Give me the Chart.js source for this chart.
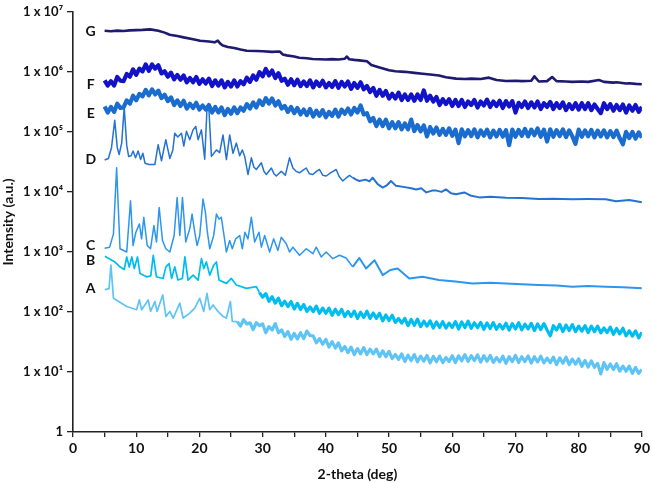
<!DOCTYPE html>
<html>
<head>
<meta charset="utf-8">
<script src="https://cdn.jsdelivr.net/npm/chart.js@4/dist/chart.umd.min.js"></script>
<style>
  body { margin: 0; background: #fff; }
  #wrap { width: 653px; height: 483px; }
</style>
</head>
<body>
<div id="wrap"><canvas id="xrd"></canvas></div>
<script>
// Intensidades: [2-theta, intensidad]
const serieG = [[5,4.82e6],[6,4.75e6],[7,4.85e6],[8,4.8e6],[9,4.9e6],[10,4.95e6],[11,5.0e6],[12.2,5.1e6],[13.5,4.85e6],[14.5,4.5e6],
  [15.3,4.15e6],[16.5,3.95e6],[17.5,3.75e6],[19,3.5e6],[20.1,3.3e6],[21.5,3.2e6],[22.4,3.1e6],[22.9,3.3e6],[23.3,2.95e6],[23.7,2.75e6],
  [24.5,2.6e6],[25.5,2.5e6],[26.5,2.35e6],[27.5,2.25e6],[29,2.22e6],[30,2.2e6],[31.5,2.15e6],[32.7,2.18e6],[33.2,1.95e6],[33.8,1.88e6],
  [35,1.8e6],[35.8,1.72e6],[37,1.68e6],[37.9,1.64e6],[39,1.62e6],[40,1.6e6],[41,1.63e6],[42,1.6e6],[43,1.65e6],[43.3,1.8e6],
  [43.7,1.62e6],[44.5,1.58e6],[45.3,1.55e6],[46.5,1.5e6],[47.2,1.3e6],[48.5,1.18e6],[50,1.06e6],[51,1.02e6],[52.5,1.0e6],[54,9.6e5],
  [55.3,9.3e5],[56.5,9.0e5],[57.9,8.7e5],[59,8.1e5],[60.6,7.7e5],[62,7.6e5],[63,7.7e5],[64.5,7.6e5],[65.8,8.0e5],[67,7.3e5],
  [68.5,7.05e5],[70,7.1e5],[71,7.0e5],[72.5,7.1e5],[73,8.4e5],[73.7,6.9e5],[75,7.0e5],[75.8,8.2e5],[76.5,7.0e5],[78,6.9e5],
  [79,6.8e5],[80.5,6.9e5],[81.5,6.8e5],[83.2,7.3e5],[84,6.8e5],[85.5,6.6e5],[86,6.7e5],[87.5,6.4e5],[88,6.45e5],[89,6.3e5],[90,6.2e5]];

const serieF = [[5,7.2e5],[5.5,5.9e5],[6,7.0e5],[6.5,5.9e5],[7,8.2e5],[7.5,7.1e5],[8,7.0e5],[8.5,9.2e5],[9,8.3e5],[9.5,1.1e6],
  [10,8.9e5],[10.5,1.13e6],[11,1.02e6],[11.5,1.33e6],[12,1.04e6],[12.5,1.33e6],[13,1.13e6],[13.5,1.29e6],[14,9.4e5],[14.5,1.02e6],
  [15,8.3e5],[15.5,9.7e5],[16,7.5e5],[16.5,8.9e5],[17,7.4e5],[17.5,8.7e5],[18,6.7e5],[18.5,7.9e5],[19,6.7e5],[19.5,8.2e5],
  [20,6.3e5],[20.5,7.5e5],[21,6.4e5],[21.5,7.7e5],[22,5.8e5],[22.5,7.2e5],[23,5.9e5],[23.5,7.2e5],[24,5.5e5],[24.5,6.8e5],
  [25,5.7e5],[25.5,7.2e5],[26,5.7e5],[26.5,7.0e5],[27,6.2e5],[27.5,8.0e5],[28,6.8e5],[28.5,8.7e5],[29,7.4e5],[29.5,9.9e5],
  [30,8.4e5],[30.5,1.12e6],[31,8.7e5],[31.5,1.05e6],[32,7.9e5],[32.5,9.5e5],[33,7.1e5],[33.5,7.7e5],[34,6.1e5],[34.5,7.5e5],
  [35,6.0e5],[35.5,7.4e5],[36,5.8e5],[36.5,6.9e5],[37,5.8e5],[37.5,7.2e5],[38,5.5e5],[38.5,6.9e5],[39,5.8e5],[39.5,7.1e5],
  [40,5.5e5],[40.5,6.5e5],[41,5.6e5],[41.5,7.0e5],[42,5.4e5],[42.5,6.8e5],[43,5.7e5],[43.5,6.9e5],[44,5.2e5],[44.5,6.5e5],
  [45,5.4e5],[45.5,6.7e5],[46,5.1e5],[46.5,5.8e5],[47,4.6e5],[47.5,5.4e5],[48,4.0e5],[48.5,5.0e5],[49,4.0e5],[49.5,4.8e5],
  [50,3.6e5],[50.5,4.3e5],[51,3.6e5],[51.5,4.5e5],[52,3.4e5],[52.5,4.2e5],[53,3.4e5],[53.5,4.2e5],[54,3.3e5],[54.5,4.2e5],
  [55,3.4e5],[55.5,4.9e5],[56,3.3e5],[56.5,4.0e5],[57,3.2e5],[57.5,3.8e5],[58,2.8e5],[58.5,3.5e5],[59,2.9e5],[59.5,3.5e5],
  [60,2.7e5],[60.5,3.4e5],[61,2.7e5],[61.5,3.4e5],[62,2.6e5],[62.5,3.2e5],[63,2.8e5],[63.5,3.4e5],[64,2.55e5],[64.5,3.2e5],
  [65,2.75e5],[65.5,3.45e5],[66,2.6e5],[66.5,3.2e5],[67,2.7e5],[67.5,3.3e5],[68,2.5e5],[68.5,3.25e5],[69,2.65e5],[69.5,3.25e5],
  [70,2.1e5],[70.5,3.05e5],[71,2.6e5],[71.5,3.2e5],[72,2.5e5],[72.5,3.1e5],[73,2.55e5],[73.5,3.2e5],[74,2.4e5],[74.5,3.0e5],
  [75,2.6e5],[75.5,3.15e5],[76,2.4e5],[76.5,3.0e5],[77,2.5e5],[77.5,3.1e5],[78,2.3e5],[78.5,2.9e5],[79,2.4e5],[79.5,3.0e5],
  [80,2.35e5],[80.5,3.0e5],[81,2.4e5],[81.5,3.0e5],[82,2.3e5],[82.5,2.85e5],[83,2.4e5],[83.5,2.05e5],[84,3.0e5],[84.5,2.4e5],
  [85,2.9e5],[85.5,2.25e5],[86,2.8e5],[86.5,2.3e5],[87,2.85e5],[87.5,2.1e5],[88,2.75e5],[88.5,2.25e5],[89,2.8e5],[89.5,2.15e5],[90,2.6e5]];

const serieE = [[5,2.65e5],[5.5,2.1e5],[6,2.6e5],[6.5,2.15e5],[7,2.95e5],[7.5,2.5e5],[8,2.55e5],[8.5,3.35e5],[9,2.95e5],[9.5,4.0e5],
  [10,3.35e5],[10.5,4.3e5],[11,3.9e5],[11.5,5.0e5],[12,4.05e5],[12.5,5.1e5],[13,4.2e5],[13.5,4.85e5],[14,3.65e5],[14.5,4.15e5],
  [15,3.25e5],[15.5,3.75e5],[16,2.8e5],[16.5,3.35e5],[17,2.7e5],[17.5,3.3e5],[18,2.45e5],[18.5,2.95e5],[19,2.5e5],[19.5,3.05e5],
  [20,2.35e5],[20.5,2.75e5],[21,2.35e5],[21.5,2.8e5],[22,2.1e5],[22.5,2.6e5],[23,2.1e5],[23.5,2.55e5],[24,1.9e5],[24.5,2.4e5],
  [25,2.0e5],[25.5,2.55e5],[26,2.05e5],[26.5,2.55e5],[27,2.25e5],[27.5,2.9e5],[28,2.45e5],[28.5,3.1e5],[29,2.55e5],[29.5,3.35e5],
  [30,2.8e5],[30.5,3.65e5],[31,2.95e5],[31.5,3.6e5],[32,2.75e5],[32.5,3.25e5],[33,2.45e5],[33.5,2.7e5],[34,2.15e5],[34.5,2.6e5],
  [35,2.05e5],[35.5,2.5e5],[36,1.95e5],[36.5,2.35e5],[37,1.9e5],[37.5,2.4e5],[38,1.8e5],[38.5,2.25e5],[39,1.85e5],[39.5,2.3e5],
  [40,1.75e5],[40.5,2.15e5],[41,1.85e5],[41.5,2.35e5],[42,1.8e5],[42.5,2.35e5],[43,2.0e5],[43.5,2.45e5],[44,1.95e5],[44.5,2.5e5],
  [45,2.1e5],[45.5,2.75e5],[46,1.95e5],[46.5,2.05e5],[47,1.5e5],[47.5,1.7e5],[48,1.25e5],[48.5,1.6e5],[49,1.25e5],[49.5,1.6e5],
  [50,1.15e5],[50.5,1.45e5],[51,1.15e5],[51.5,1.45e5],[52,1.1e5],[52.5,1.38e5],[53,1.1e5],[53.5,1.6e5],[54,1.03e5],[54.5,1.3e5],
  [55,1.02e5],[55.5,1.28e5],[56,8.4e4],[56.5,1.2e5],[57,9.4e4],[57.5,1.18e5],[58,8.9e4],[58.5,1.12e5],[59,8.9e4],[59.5,1.14e5],
  [60,8.6e4],[60.5,1.09e5],[61,6.5e4],[61.5,1.1e5],[62,8.4e4],[62.5,1.07e5],[63,8.5e4],[63.5,1.1e5],[64,8.1e4],[64.5,1.06e5],
  [65,8.6e4],[65.5,1.09e5],[66,8.1e4],[66.5,1.05e5],[67,8.4e4],[67.5,1.08e5],[68,8.3e4],[68.5,1.07e5],[69,6.0e4],[69.5,1.09e5],
  [70,8.3e4],[70.5,1.08e5],[71,8.6e4],[71.5,1.12e5],[72,8.4e4],[72.5,1.09e5],[73,8.8e4],[73.5,1.14e5],[74,8.3e4],[74.5,1.09e5],
  [75,6.9e4],[75.5,1.1e5],[76,8.3e4],[76.5,1.07e5],[77,8.5e4],[77.5,1.1e5],[78,8.2e4],[78.5,1.06e5],[79,8.4e4],[79.5,6.3e4],
  [80,1.09e5],[80.5,8.3e4],[81,1.06e5],[81.5,8.4e4],[82,1.08e5],[82.5,8.1e4],[83,1.05e5],[83.5,8.4e4],[84,1.06e5],[84.5,8.1e4],
  [85,1.03e5],[85.5,8.2e4],[86,1.05e5],[86.5,7.8e4],[87,6.2e4],[87.5,1.0e5],[88,7.9e4],[88.5,1.0e5],[89,7.7e4],[89.5,9.8e4],[90,8.0e4]];

const serieD = [[5,3.4e4],[5.6,3.6e4],[6.1,5.5e4],[6.6,1.56e5],[7.0,5.5e4],[7.3,4.2e4],[7.7,6.5e4],[8.1,2.56e5],[8.5,6.0e4],[8.8,3.9e4],
  [9.2,4.0e4],[9.5,4.8e4],[9.9,3.7e4],[10.3,4.8e4],[10.7,3.45e4],[11.05,4.4e4],[11.4,3.0e4],[12.0,2.85e4],[12.95,2.85e4],[13.47,6.1e4],
  [14.0,3.3e4],[14.68,7.4e4],[15.32,3.6e4],[15.8,5.0e4],[16.1,9.5e4],[16.58,8.2e4],[17.16,9.5e4],[17.53,5.8e4],[17.95,1.02e5],[18.47,7.4e4],
  [19.0,1.08e5],[19.42,1.23e5],[19.79,7.4e4],[20.32,1.08e5],[20.84,3.5e4],[21.2,2.5e5],[21.52,2.2e5],[21.9,3.9e4],[22.69,5.0e4],[23.2,4.5e4],
  [23.73,8.9e4],[24.27,3.45e4],[24.79,8.9e4],[25.31,4.4e4],[25.85,6.5e4],[26.37,4.0e4],[26.8,5.0e4],[27.16,3.9e4],[27.68,1.95e4],[28.22,3.7e4],
  [28.6,2.6e4],[29.0,2.36e4],[29.8,3.05e4],[30.2,2.2e4],[30.59,1.95e4],[31.38,2.5e4],[31.8,2.0e4],[32.16,1.84e4],[32.95,2.2e4],[33.6,1.9e4],
  [34.26,3.7e4],[34.79,2.5e4],[35.3,2.2e4],[35.84,2.08e4],[36.4,2.3e4],[36.9,2.5e4],[37.4,2.0e4],[37.95,1.95e4],[38.5,2.2e4],[39.0,2.36e4],
  [39.5,1.9e4],[40.06,1.84e4],[40.8,2.1e4],[41.64,2.36e4],[42.1,1.8e4],[42.68,1.52e4],[43.2,1.7e4],[43.74,1.88e4],[44.26,1.72e4],[44.8,1.6e4],
  [45.3,1.52e4],[46.3,1.6e4],[46.9,1.5e4],[47.4,1.72e4],[48.2,1.35e4],[49.0,1.18e4],[49.7,1.3e4],[50.3,1.52e4],[51.1,1.26e4],[52.5,1.2e4],
  [53.5,1.15e4],[54.3,1.1e4],[55.1,1.15e4],[55.9,9.8e3],[56.8,1.05e4],[57.5,1.05e4],[58.3,1.0e4],[59.0,1.1e4],[59.8,9.5e3],[60.6,9.1e3],
  [61.9,9.8e3],[63.0,8.6e3],[64.3,8.1e3],[66.0,8.3e3],[68.5,8.0e3],[71.0,7.9e3],[73.7,7.6e3],[76.0,7.7e3],[79.0,7.55e3],[81.5,7.6e3],
  [84.3,7.55e3],[85.9,7.0e3],[88.0,7.3e3],[90.0,6.7e3]];

const serieC = [[5,1.15e3],[5.8,1.2e3],[6.4,2.0e3],[6.9,2.52e4],[7.44,1.13e3],[8.5,995],[9.1,7.1e3],[9.5,1.28e3],[9.95,2.13e3],[10.5,2.92e3],
  [10.85,1.65e3],[11.2,3.77e3],[11.74,1.28e3],[12.27,1.13e3],[12.8,2.75e3],[13.21,1.46e3],[13.63,5.5e3],[14.16,1.55e3],[14.69,1.13e3],[15.32,995],
  [16.0,1.88e3],[16.47,8.05e3],[16.9,1.88e3],[17.32,8.05e3],[17.84,1.46e3],[18.47,2.42e3],[18.84,4.27e3],[19.26,2.13e3],[19.63,1.28e3],[20.05,1.88e3],
  [20.57,7.6e3],[20.95,4.55e3],[21.26,2.13e3],[21.63,1.13e3],[22.26,1.88e3],[22.69,4.27e3],[23.1,3.53e3],[23.47,3.77e3],[23.89,1.88e3],[24.27,995],
  [24.79,1.55e3],[25.2,1.13e3],[25.74,1.65e3],[26.37,1.88e3],[26.79,1.13e3],[27.2,2.13e3],[27.68,1.65e3],[28.22,3.77e3],[28.74,1.46e3],[29.42,2.13e3],
  [29.8,1.2e3],[30.32,1.88e3],[31.11,995],[31.74,1.65e3],[32.42,1.06e3],[32.95,1.76e3],[33.74,1.37e3],[34.26,995],[34.79,1.2e3],[35.84,879],
  [36.9,1.13e3],[37.95,933],[38.48,1.2e3],[39.27,824],[40.06,995],[41.11,772],[42.16,879],[43.2,793],[44.26,564],[45.3,793],
  [46.37,529],[47.7,728],[49.0,411],[50.2,500],[51.36,529],[53.2,361],[55.3,385],[57.9,340],[60.5,320],[63.2,299],
  [66.0,305],[68.5,299],[71.0,290],[73.7,281],[76.5,275],[79.0,264],[81.5,270],[84.3,264],[87.0,258],[90.0,247]];

const serieB = [[5.05,850],[6.63,681],[7.42,564],[8.1,510],[8.5,824],[8.9,560],[9.3,824],[9.7,529],[10.2,824],[10.6,437],
  [11.64,385],[12.3,400],[12.7,879],[13.2,385],[14.25,361],[14.7,564],[15.2,638],[15.6,361],[16.1,564],[16.6,340],
  [17.3,360],[17.7,824],[18.2,340],[19.0,411],[19.8,340],[20.32,772],[20.7,529],[21.1,681],[21.63,411],[22.26,601],
  [22.69,681],[23.1,340],[24.27,299],[25.05,361],[25.85,281],[27.43,247],[29.0,264],[29.5,210],
  [30,176],[30.5,202],[31,150],[31.5,179],[32,140],[32.5,170],[33,127],[33.5,151],[34,123],[34.5,149],
  [35,112],[35.5,139],[36,110],[36.5,133],[37,102],[37.5,121],[38,101],[38.5,125],[39,95],[39.5,116],
  [40,95],[40.5,116],[41,88],[41.5,111],[42,90],[42.5,110],[43,84],[43.5,102],[44,84],[44.5,103],
  [45,78],[45.5,99],[46,81],[46.5,103],[47,78],[47.5,96],[48,78],[48.5,95],[49,71],[49.5,89],
  [50,72],[50.5,88],[51,67],[51.5,78],[52,65],[52.5,78],[53,59],[53.5,75],[54,60],[54.5,76],
  [55,57],[55.5,70],[56,58],[56.5,71],[57,54],[57.5,68],[58,55],[58.5,69],[59,54],[59.5,65],
  [60,55],[60.5,69],[61,52],[61.5,68],[62,55],[62.5,70],[63,53.5],[63.5,66],[64,54.5],[64.5,67],
  [65,51.5],[65.5,65.5],[66,53],[66.5,66.5],[67,51.5],[67.5,62],[68,52],[68.5,65],[69,50],[69.5,64],
  [70,52],[70.5,66],[71,50.5],[71.5,62.5],[72,52],[72.5,64.5],[73,49],[73.5,63],[74,51],[74.5,64],
  [75,50],[75.5,40],[76,59],[76.5,50],[77,62],[77.5,47],[78,60.5],[78.5,49],[79,61.5],[79.5,47],
  [80,58],[80.5,48],[81,59],[81.5,45.5],[82,58],[82.5,47],[83,58],[83.5,45],[84,54],[84.5,45.5],
  [85,56],[85.5,42.5],[86,53],[86.5,43],[87,53.5],[87.5,40],[88,48.5],[88.5,39.5],[89,48.5],[89.5,37],[90,46]];

const serieA = [[5.05,235],[5.7,244],[6.0,601],[6.4,169],[8.5,123],[10.06,109],[10.5,159],[10.85,109],[11.37,131],[11.9,159],
  [12.27,102],[12.95,149],[13.3,102],[14.2,192],[14.69,84.3],[15.32,102],[15.85,79.1],[16.9,140],[17.42,79.1],[18.47,95.5],
  [19.26,116],[20.05,169],[20.68,102],[21.2,204],[21.63,109],[22.16,131],[22.94,102],[23.73,84.3],[24.27,79.1],[24.9,149],
  [25.2,69.7],[26,69],[26.5,58],[27,74],[27.5,63],[28,66],[28.5,51],[29,66],[29.5,59],
  [30,63],[30.5,45],[31,57],[31.5,50],[32,64],[32.5,45],[33,50],[33.5,39],[34,47],[34.5,35],
  [35,44],[35.5,35.5],[36,45],[36.5,36],[37,48],[37.5,40.5],[38,40],[38.5,30.5],[39,36],[39.5,29],
  [40,35],[40.5,26],[41,32],[41.5,25],[42,30.5],[42.5,22.5],[43,26.5],[43.5,21],[44,26],[44.5,19.5],
  [45,24.5],[45.5,20],[46,25.5],[46.5,19.5],[47,24],[47.5,20],[48,24],[48.5,18],[49,22.5],[49.5,18],
  [50,22],[50.5,16.7],[51,19.6],[51.5,16.2],[52,20],[52.5,15],[53,19],[53.5,15.5],[54,19.5],[54.5,14.8],
  [55,18.4],[55.5,15.2],[56,18.8],[56.5,14.2],[57,18.2],[57.5,14.8],[58,18.4],[58.5,14.3],[59,17.4],[59.5,14.9],
  [60,18.6],[60.5,14.4],[61,18.6],[61.5,15.3],[62,19.5],[62.5,15],[63,18.7],[63.5,15.5],[64,19.2],[64.5,14.6],
  [65,18.6],[65.5,15.1],[66,18.8],[66.5,14.5],[67,17.4],[67.5,14.7],[68,18.3],[68.5,13.9],[69,18],[69.5,14.9],
  [70,18.9],[70.5,14.4],[71,17.9],[71.5,14.9],[72,18.5],[72.5,14.1],[73,17.9],[73.5,14.7],[74,18.3],[74.5,14.2],
  [75,17],[75.5,14.3],[76,17.7],[76.5,13.3],[77,17.2],[77.5,14],[78,17.6],[78.5,13.3],[79,16.4],[79.5,13.5],
  [80,16.5],[80.5,12.4],[81,15.5],[81.5,12.1],[82,15.3],[82.5,12],[83,13.9],[83.5,9.3],[84,14.3],[84.5,11.1],
  [85,13.6],[85.5,11],[86,13.7],[86.5,10.3],[87,12.5],[87.5,10.3],[88,12.5],[88.5,9.5],[89,11.9],[89.5,9.5],[90,11]];

// Etiquetas de las curvas y marcas del eje
const nombresSeries = ['G', 'F', 'E', 'D', 'C', 'B', 'A'];
const etiquetaTheta = 2.8;
const etiquetaIntensidad = [4.7e6, 6.1e5, 2.0e5, 3.45e4, 1.28e3, 7.3e2, 2.47e2];
const ticksY = [1, 1e1, 1e2, 1e3, 1e4, 1e5, 1e6, 1e7];

const colores = ['#1d1a70', '#1212c8', '#1b6ccf', '#2472d2', '#2c96ee', '#00bdf0', '#5ec4f6'];
const series = [serieG, serieF, serieE, serieD, serieC, serieB, serieA];

// grosor de línea según la zona (más grueso donde hay ruido)
const grosor = [
  () => 2.6,
  () => 4.2,
  () => 4.2,
  x => x > 44 ? 2.0 : 1.5,
  x => x > 44 ? 2.0 : 1.5,
  x => x > 29 ? 3.2 : 1.7,
  x => x > 25.5 ? 3.2 : 1.7
];

const sup = { '0': '\u2070', '1': '\u00b9', '2': '\u00b2', '3': '\u00b3', '4': '\u2074', '5': '\u2075', '6': '\u2076', '7': '\u2077' };
const fuente = 'Lato, "Open Sans", sans-serif';

const etiquetasPlugin = {
  id: 'etiquetas',
  afterDatasetsDraw(chart) {
    const ctx = chart.ctx;
    const sx = chart.scales.x, sy = chart.scales.y;
    ctx.save();
    ctx.fillStyle = '#111';
    ctx.font = 'bold 14px ' + fuente;
    ctx.textAlign = 'center';
    ctx.textBaseline = 'middle';
    nombresSeries.forEach((n, i) => {
      ctx.fillText(n, sx.getPixelForValue(etiquetaTheta), sy.getPixelForValue(etiquetaIntensidad[i]));
    });
    ctx.restore();
  }
};

new Chart(document.getElementById('xrd').getContext('2d'), {
  type: 'line',
  data: {
    datasets: series.map((s, i) => ({
      label: nombresSeries[i],
      data: s.map(p => ({ x: p[0], y: p[1] })),
      borderColor: colores[i],
      borderWidth: grosor[i](0),
      segment: { borderWidth: c => grosor[i](c.p0.parsed.x) },
      pointRadius: 0,
      tension: 0,
      borderJoinStyle: 'round',
      fill: false
    }))
  },
  options: {
    responsive: true,
    maintainAspectRatio: false,
    animation: false,
    layout: { padding: { top: 7, right: 10, left: 0, bottom: 0 } },
    plugins: { legend: { display: false }, tooltip: { enabled: false } },
    scales: {
      x: {
        type: 'linear',
        min: 0, max: 90,
        ticks: {
          stepSize: 5, autoSkip: false, maxRotation: 0, color: '#111', padding: 3,
          font: { family: fuente, size: 14, weight: 'bold' },
          callback: v => v % 10 === 0 ? String(v) : ''
        },
        grid: { drawOnChartArea: false, drawTicks: true, tickLength: 5, color: '#222', lineWidth: 1.3 },
        border: { color: '#222', width: 1.6 },
        title: { display: true, text: '2-theta (deg)', color: '#111', padding: 0, font: { family: fuente, size: 14, weight: 'bold' } },
        afterFit: s => { s.height = 51; }
      },
      y: {
        type: 'logarithmic',
        min: 1, max: 1e7,
        afterBuildTicks: s => { s.ticks = ticksY.map(v => ({ value: v })); },
        ticks: {
          color: '#111', padding: 4,
          font: { family: fuente, size: 13, weight: 'bold' },
          callback: v => v === 1 ? '1' : '1 x 10' + String(Math.round(Math.log10(v))).split('').map(d => sup[d]).join('')
        },
        grid: { drawOnChartArea: false, drawTicks: true, tickLength: 6, color: '#222', lineWidth: 1.3 },
        border: { color: '#222', width: 1.6 },
        title: { display: true, text: 'Intensity (a.u.)', color: '#111', padding: 0, font: { family: fuente, size: 14, weight: 'bold' } },
        afterFit: s => { s.width = 73; }
      }
    }
  },
  plugins: [etiquetasPlugin]
});
</script>
</body>
</html>
